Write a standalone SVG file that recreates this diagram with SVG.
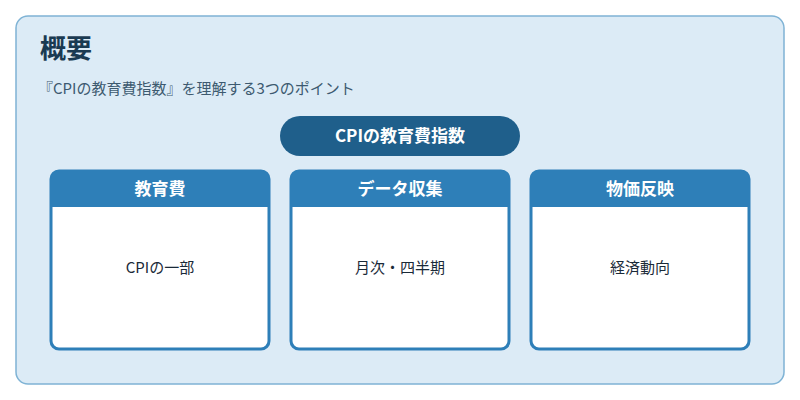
<svg xmlns="http://www.w3.org/2000/svg" width="800" height="400" viewBox="0 0 800 400">
<style>
text{font-family:"Noto Sans CJK JP","Noto Sans",sans-serif}
.hd{fill:#2e7fb8}
.card{fill:#fff;stroke:#2e7fb8;stroke-width:3}
.ht{fill:#fff;font-size:17px;font-weight:bold;text-anchor:middle}
.bt{fill:#1a2a38;font-size:15px;text-anchor:middle}
</style>
<rect x="16" y="16" width="768" height="368" rx="12" fill="#dcebf6" stroke="#7fb3d5" stroke-width="1.5"/>
<text x="40" y="58" font-size="26" font-weight="bold" fill="#1a3a52">概要</text>
<text x="38" y="94" font-size="15" fill="#3d5a70">『CPIの教育費指数』を理解する3つのポイント</text>
<g id="main"><rect x="280" y="116" width="240" height="40" rx="20" fill="#1f5f8b"/><text x="400" y="142" class="ht">CPIの教育費指数</text></g>
<g id="n1"><rect class="card" x="51" y="171" width="218" height="178" rx="8"/><path class="hd" d="M51 207V179a8 8 0 0 1 8-8h202a8 8 0 0 1 8 8v28z"/><text class="ht" x="160" y="195">教育費</text><text class="bt" x="160" y="273">CPIの一部</text></g>
<g id="n2"><rect class="card" x="291" y="171" width="218" height="178" rx="8"/><path class="hd" d="M291 207V179a8 8 0 0 1 8-8h202a8 8 0 0 1 8 8v28z"/><text class="ht" x="400" y="195">データ収集</text><text class="bt" x="400" y="273">月次・四半期</text></g>
<g id="n3"><rect class="card" x="531" y="171" width="218" height="178" rx="8"/><path class="hd" d="M531 207V179a8 8 0 0 1 8-8h202a8 8 0 0 1 8 8v28z"/><text class="ht" x="640" y="195">物価反映</text><text class="bt" x="640" y="273">経済動向</text></g>
<g id="connectors"/>
</svg>
